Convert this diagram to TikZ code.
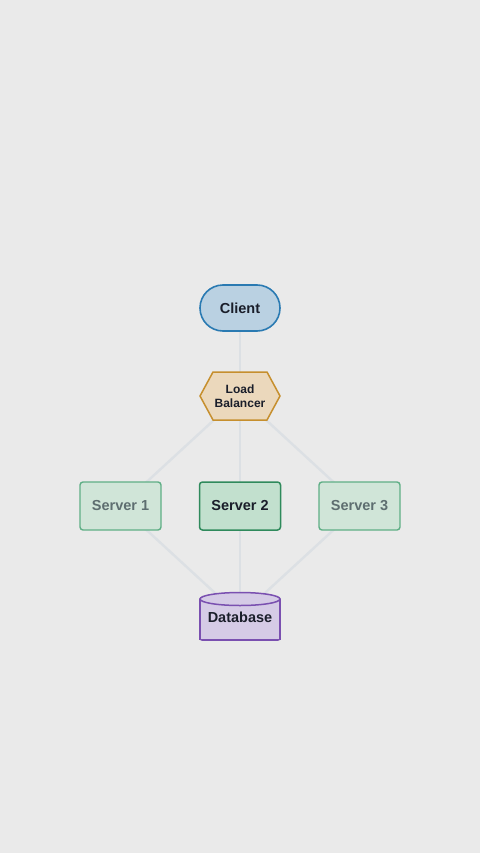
\documentclass[tikz,border=0pt]{standalone}
\usepackage{fontspec}
\setmainfont{Liberation Sans}
\definecolor{bgc}{HTML}{EAEAEA}
\definecolor{edgec}{HTML}{DCE0E4}
\definecolor{clientf}{HTML}{BAD1E2}
\definecolor{clientd}{HTML}{2A7AB2}
\definecolor{lbf}{HTML}{EBD8BC}
\definecolor{lbd}{HTML}{C68F2E}
\definecolor{srvf}{HTML}{C2E0CE}
\definecolor{srvd}{HTML}{2F8A5C}
\definecolor{srvfade}{HTML}{D0E5D8}
\definecolor{srvfaded}{HTML}{5FAF86}
\definecolor{dbf}{HTML}{D5CBE6}
\definecolor{dbd}{HTML}{7A50B0}
\definecolor{txt}{HTML}{1A1E2A}
\definecolor{txtfade}{HTML}{5E6E70}
\tikzset{
  conn/.style={draw=edgec, line width=2.4pt},
  lbl/.style={text=txt, font=\fontsize{14.5}{16}\selectfont\bfseries, inner sep=0pt},
  lbllb/.style={text=txt, align=center, font=\fontsize{12}{14.5}\selectfont\bfseries, inner sep=0pt},
  clientshape/.style={draw=clientd, fill=clientf, line width=1.6pt},
  lbshape/.style={draw=lbd, fill=lbf, line width=1.5pt},
  srvshape/.style={draw=srvd, fill=srvf, line width=1.5pt, rounded corners=3pt},
  srvfadeshape/.style={draw=srvfaded, fill=srvfade, line width=1.4pt, rounded corners=3pt},
  dbshape/.style={draw=dbd, fill=dbf, line width=1.5pt}
}
\begin{document}
\begin{tikzpicture}[x=1pt,y=-1pt]
\useasboundingbox[fill=bgc] (0,0) rectangle (480,853);
% centres
\coordinate (cc) at (240,308);
\coordinate (lbc) at (240,396);
\coordinate (s1c) at (120.5,506);
\coordinate (s2c) at (240,506);
\coordinate (s3c) at (359.5,506);
\coordinate (dbc) at (240,616);
% connectors
\draw[conn] (cc) -- (lbc);
\draw[conn] (lbc) -- (s1c);
\draw[conn] (lbc) -- (s2c);
\draw[conn] (lbc) -- (s3c);
\draw[conn] (s1c) -- (dbc);
\draw[conn] (s2c) -- (dbc);
\draw[conn] (s3c) -- (dbc);
% client
\draw[clientshape, rounded corners=23pt] (200,285) rectangle (280,331);
\node[lbl] (client) at (cc) {Client};
% load balancer
\draw[lbshape] (200,396) -- (213,372) -- (267,372) -- (280,396) -- (267,420) -- (213,420) -- cycle;
\node[lbllb] (lb) at (lbc) {Load\\Balancer};
% servers
\draw[srvfadeshape] (80,482) rectangle (161,530);
\node[lbl, text=txtfade] (s1) at (s1c) {Server 1};
\draw[srvshape] (199.5,482) rectangle (280.5,530);
\node[lbl] (s2) at (s2c) {Server 2};
\draw[srvfadeshape] (319,482) rectangle (400,530);
\node[lbl, text=txtfade] (s3) at (s3c) {Server 3};
% database
\draw[dbshape, rounded corners=2pt] (200,599) -- (200,640) -- (280,640) -- (280,599);
\fill[dbf] (200,599) rectangle (280,639);
\draw[dbshape, line cap=round] (200,599) -- (200,639.5) -- (280,639.5) -- (280,599);
\draw[dbshape] (240,599) ellipse [x radius=40pt, y radius=6.5pt];
\node[lbl] (db) at (240,617) {Database};
\end{tikzpicture}
\end{document}
